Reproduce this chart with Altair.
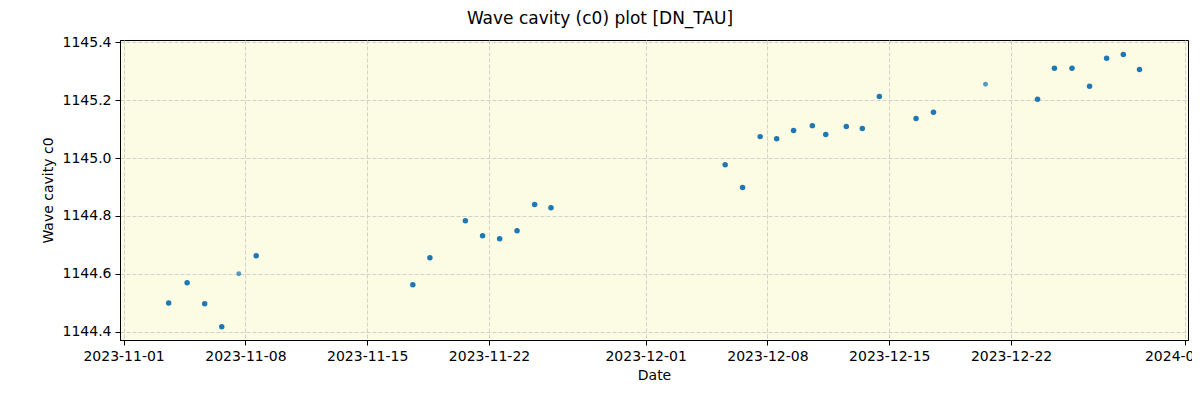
import altair as alt
import pandas as pd
from datetime import datetime, timezone

dates = [
    "2023-11-03T14:10", "2023-11-04T15:36", "2023-11-05T15:50", "2023-11-06T15:22",
    "2023-11-07T14:53", "2023-11-08T14:53", "2023-11-17T14:53", "2023-11-18T14:24",
    "2023-11-20T15:22", "2023-11-21T15:07", "2023-11-22T14:38", "2023-11-23T14:38",
    "2023-11-24T14:53", "2023-11-25T13:26", "2023-12-05T13:41", "2023-12-06T13:41",
    "2023-12-07T13:55", "2023-12-08T12:43", "2023-12-09T12:00", "2023-12-10T13:55",
    "2023-12-11T08:24", "2023-12-12T12:43", "2023-12-13T10:48", "2023-12-14T10:19",
    "2023-12-16T12:58", "2023-12-17T12:58", "2023-12-20T12:43", "2023-12-23T12:29",
    "2023-12-24T11:46", "2023-12-25T12:00", "2023-12-26T12:14", "2023-12-27T11:46",
    "2023-12-28T10:48", "2023-12-29T09:07",
]
values = [
    1144.499, 1144.569, 1144.496, 1144.417, 1144.600, 1144.662, 1144.562, 1144.655,
    1144.783, 1144.731, 1144.721, 1144.749, 1144.839, 1144.828, 1144.977, 1144.898,
    1145.074, 1145.067, 1145.095, 1145.112, 1145.081, 1145.109, 1145.102, 1145.213,
    1145.137, 1145.158, 1145.255, 1145.203, 1145.310, 1145.310, 1145.248, 1145.345,
    1145.358, 1145.306,
]
# faint markers (smaller / lighter in the reference)
faint = [False, False, False, False, True, False, False, False,
         False, False, False, False, False, False, False, False,
         False, False, False, False, False, False, False, False,
         False, False, True, False, False, False, False, False,
         False, False]

tick_dates = ["2023-11-01", "2023-11-08", "2023-11-15", "2023-11-22",
              "2023-12-01", "2023-12-08", "2023-12-15", "2023-12-22", "2024-01-01"]
y_ticks = [1144.4, 1144.6, 1144.8, 1145.0, 1145.2, 1145.4]


def ms(s):
    return int(datetime.fromisoformat(s).replace(tzinfo=timezone.utc).timestamp() * 1000)


df = pd.DataFrame({
    "t": [ms(d) for d in dates],
    "c0": values,
    "faint": faint,
})

x_domain = [ms("2023-10-31T19:02"), ms("2024-01-01T04:00")]
y_domain = [1144.371, 1145.408]

FONT = "DejaVu Sans"

base = alt.Chart(df)

x_enc = alt.X(
    "t:T",
    title="Date",
    scale=alt.Scale(type="utc", domain=x_domain, nice=False),
    axis=alt.Axis(values=[ms(d) for d in tick_dates], format="%Y-%m-%d",
                  labelFontSize=14, titleFontSize=14, labelPadding=4,
                  titlePadding=5, tickSize=5, tickColor="black",
                  domainColor="black", labelColor="black", titleColor="black",
                  gridColor="#cccccc", gridDash=[4, 2], gridWidth=0.9,
                  labelFont=FONT, titleFont=FONT, titleFontWeight="normal"),
)
y_enc = alt.Y(
    "c0:Q",
    title="Wave cavity c0",
    scale=alt.Scale(domain=y_domain, nice=False, zero=False),
    axis=alt.Axis(values=y_ticks, format=".1f",
                  labelFontSize=14, titleFontSize=14, labelPadding=4,
                  titlePadding=7, tickSize=5, tickColor="black",
                  domainColor="black", labelColor="black", titleColor="black",
                  gridColor="#cccccc", gridDash=[4, 2], gridWidth=0.9,
                  labelFont=FONT, titleFont=FONT, titleFontWeight="normal"),
)

pts = base.transform_filter("!datum.faint").mark_circle(
    size=30, color="#1f77b4", opacity=1
).encode(x=x_enc, y=y_enc)

pts_faint = base.transform_filter("datum.faint").mark_circle(
    size=24, color="#1f77b4", opacity=0.75
).encode(x="t:T", y="c0:Q")

chart = alt.layer(pts, pts_faint).properties(
    width=1068,
    height=300,
    autosize=alt.AutoSizeParams(type="none"),
    padding={"left": 112, "top": 32, "right": 4, "bottom": 52},
    background="white",
    title=alt.TitleParams("Wave cavity (c0) plot [DN_TAU]", fontSize=17,
                          font=FONT, fontWeight="normal", color="black",
                          anchor="middle", dx=-54, offset=7),
).configure_view(
    fill="#fcfbe3", stroke="black", strokeWidth=1
)

chart.save("out.html", embed_options={"renderer": "svg", "actions": False})
